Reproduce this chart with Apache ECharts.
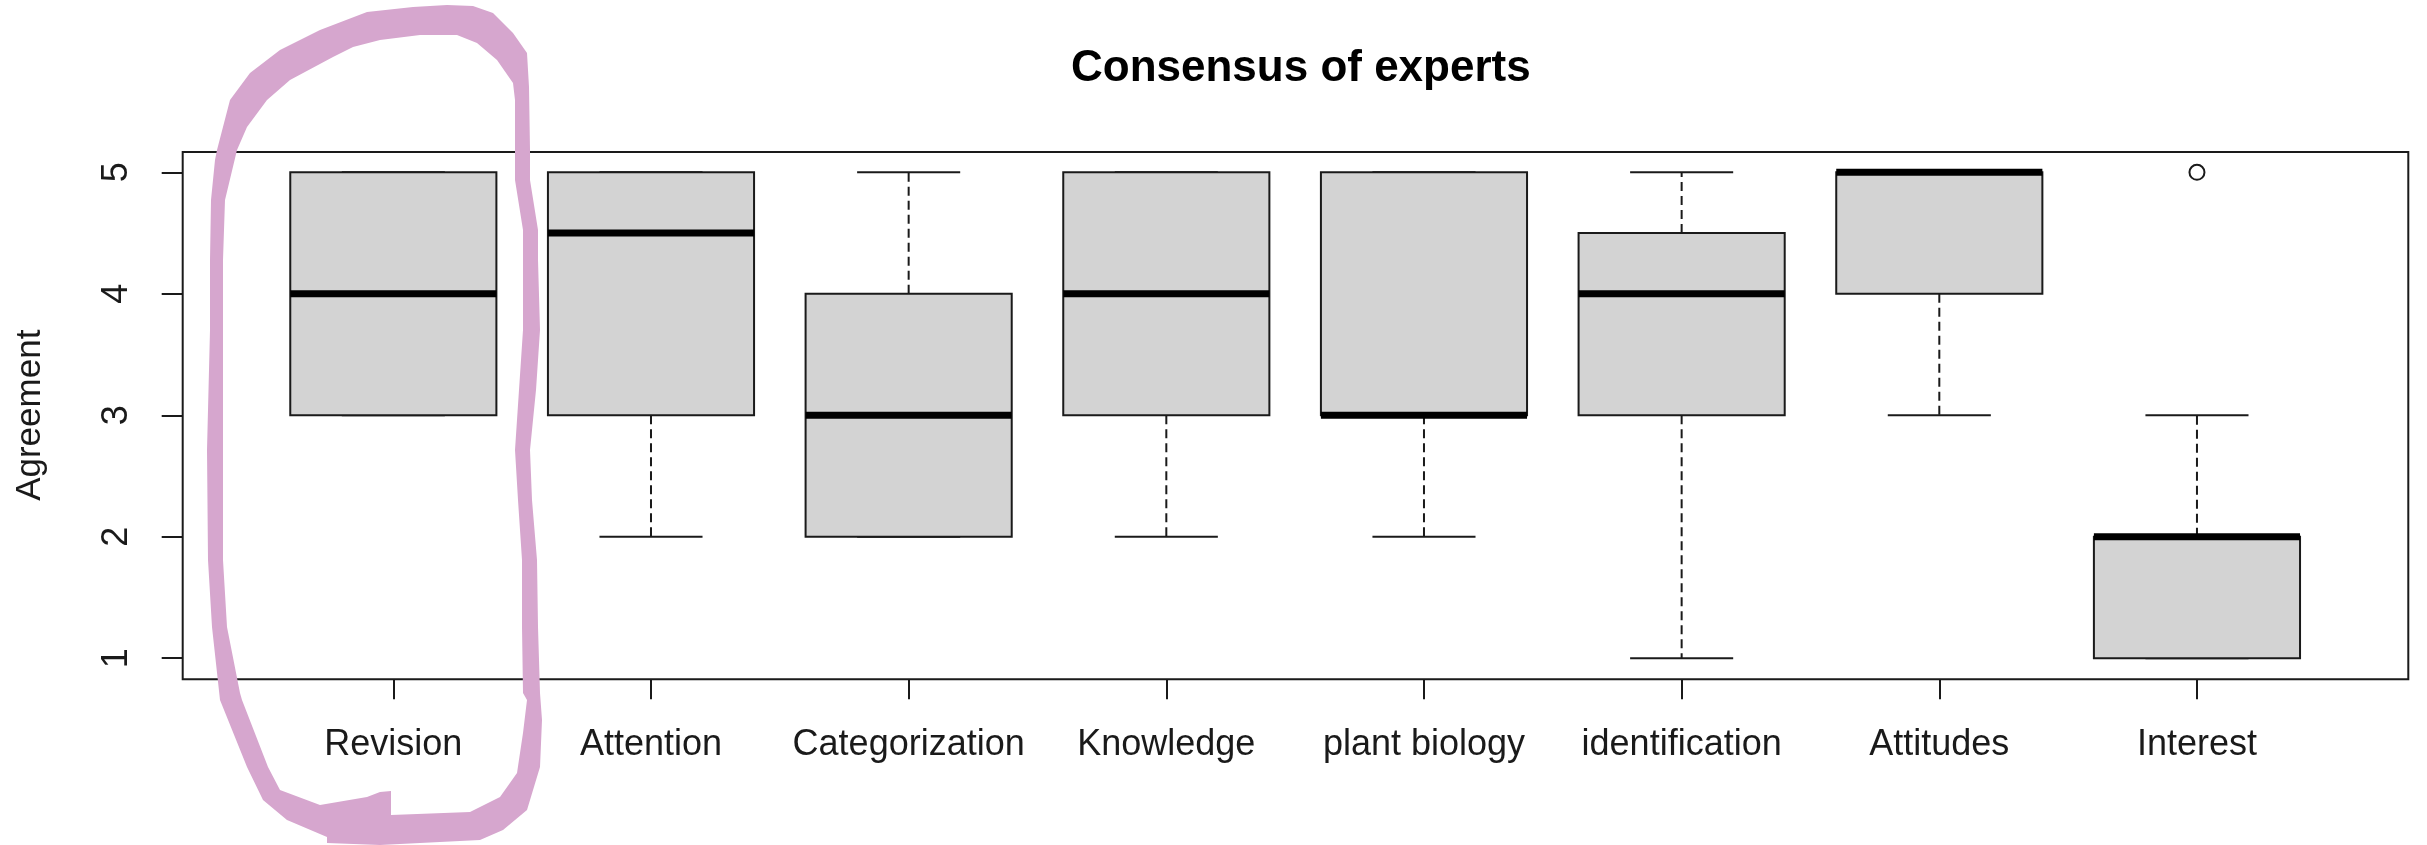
<!DOCTYPE html>
<html>
<head>
<meta charset="utf-8">
<script src="https://cdn.jsdelivr.net/npm/echarts@6/dist/echarts.min.js"></script>
<style>
html,body{margin:0;padding:0;background:#fff;}
#main{width:2427px;height:845px;}
</style>
</head>
<body>
<div id="main"></div>
<script>
// ---- data ----
const categories = ['Revision', 'Attention', 'Categorization', 'Knowledge', 'plant biology', 'identification', 'Attitudes', 'Interest'];
const whiskerLow  = [3, 2, 2, 2, 2, 1, 3, 1];
const quartile1   = [3, 3, 2, 3, 3, 3, 4, 1];
const medians     = [4, 4.5, 3, 4, 3, 4, 5, 2];
const quartile3   = [5, 5, 4, 5, 5, 4.5, 5, 2];
const whiskerHigh = [5, 5, 5, 5, 5, 5, 5, 3];
const outlierCategories = ['Interest'];
const outlierValues = [5];
const yTicks = [1, 2, 3, 4, 5];
const titleText = 'Consensus of experts';
const yTitle = 'Agreement';

const boxData = categories.map((c, i) => [i, whiskerLow[i], quartile1[i], medians[i], quartile3[i], whiskerHigh[i]]);
const outlierData = outlierCategories.map((c, k) => [categories.indexOf(c), outlierValues[k]]);

const INK = '#1a1a1a';
const FONT = 'Liberation Sans, Arial, sans-serif';
const PINK = '#D6A6CE';

// hand-drawn highlight loop (decoration)
const loopOuter = [[217,150],[230,100],[250,73],[280,50],[320,30],[367,12],[413,7],[447,5],[473,6],[493,13],[513,33],[527,53],[529,87],[530,150],[530,180],[538,230],[538,260],[540,330],[536,390],[530,450],[532,500],[537,560],[538,627],[540,693],[542,720],[540,767],[527,810],[503,830],[480,840],[380,845],[327,843],[327,837],[287,820],[263,800],[247,767],[220,700],[212,627],[208,560],[207,450],[210,330],[210,260],[211,200],[215,160]];
const loopInner = [[237,150],[225,200],[223,260],[223,330],[223,450],[223,560],[227,627],[240,693],[242,700],[268,767],[280,790],[320,805],[367,797],[380,792],[391,791],[391,815],[470,812],[500,797],[517,773],[523,733],[527,700],[523,693],[522,627],[522,560],[518,500],[515,450],[523,330],[523,260],[523,230],[515,180],[515,100],[513,83],[497,60],[477,43],[457,35],[420,35],[380,40],[353,47],[333,57],[290,80],[267,100],[247,127]];
const loopPoints = loopOuter.concat([loopOuter[0]], loopInner, [loopInner[0]]);

const chart = echarts.init(document.getElementById('main'), null, {renderer: 'canvas'});

function renderBox(params, api) {
  const i = api.value(0);
  const lo = api.value(1), q1 = api.value(2), md = api.value(3), q3 = api.value(4), hi = api.value(5);
  const band = api.size([1, 0])[0];
  const cx = api.coord([i, md])[0];
  const y = v => api.coord([i, v])[1];
  const bw = band * 0.8, cw = band * 0.4;
  const children = [];
  const dash = {stroke: INK, lineWidth: 2, lineDash: [9, 5]};
  const solid = {stroke: INK, lineWidth: 2};
  if (hi > q3) children.push({type: 'line', shape: {x1: cx, y1: y(q3), x2: cx, y2: y(hi)}, style: dash});
  if (lo < q1) children.push({type: 'line', shape: {x1: cx, y1: y(q1), x2: cx, y2: y(lo)}, style: dash});
  children.push({type: 'line', shape: {x1: cx - cw / 2, y1: y(hi), x2: cx + cw / 2, y2: y(hi)}, style: solid});
  children.push({type: 'line', shape: {x1: cx - cw / 2, y1: y(lo), x2: cx + cw / 2, y2: y(lo)}, style: solid});
  children.push({type: 'rect', shape: {x: cx - bw / 2, y: y(q3), width: bw, height: y(q1) - y(q3)},
    style: {fill: '#D3D3D3', stroke: INK, lineWidth: 2}});
  children.push({type: 'line', shape: {x1: cx - bw / 2, y1: y(md), x2: cx + bw / 2, y2: y(md)},
    style: {stroke: '#000', lineWidth: 7}});
  return {type: 'group', children};
}

const option = {
  backgroundColor: '#ffffff',
  animation: false,
  title: {
    text: titleText,
    left: 1066, top: 42,
    textStyle: {fontFamily: FONT, fontSize: 44, fontWeight: 'bold', color: '#000'}
  },
  grid: {left: 264.5, right: 101.2, top: 172.3, bottom: 186.8, containLabel: false},
  xAxis: {
    type: 'category',
    data: categories,
    boundaryGap: true,
    offset: 21.1,
    axisLine: {show: false},
    axisTick: {show: true, alignWithLabel: true, length: 20, lineStyle: {color: INK, width: 2}},
    axisLabel: {fontFamily: FONT, fontSize: 36, color: INK, margin: 48, interval: 0},
    splitLine: {show: false}
  },
  yAxis: {
    type: 'value',
    min: yTicks[0], max: yTicks[yTicks.length - 1], interval: 1,
    offset: 81.8,
    name: yTitle,
    nameLocation: 'middle',
    nameGap: 135,
    nameRotate: 90,
    nameTextStyle: {fontFamily: FONT, fontSize: 35, color: INK},
    axisLine: {show: false},
    axisTick: {show: true, length: 21, lineStyle: {color: INK, width: 2}},
    axisLabel: {fontFamily: FONT, fontSize: 36, color: INK, rotate: 90, margin: 48},
    splitLine: {show: false}
  },
  series: [
    {
      type: 'custom',
      renderItem: renderBox,
      data: boxData,
      encode: {x: 0, y: [1, 2, 3, 4, 5]},
      clip: false,
      z: 3
    },
    {
      type: 'scatter',
      data: outlierData,
      symbol: 'circle',
      symbolSize: 15,
      clip: false,
      itemStyle: {color: '#ffffff', borderColor: INK, borderWidth: 2, opacity: 1},
      z: 4
    }
  ],
  graphic: [
    // plot frame
    {type: 'rect', z: 10, silent: true,
      shape: {x: 182.7, y: 152, width: 2225.6, height: 527.3},
      style: {fill: null, stroke: INK, lineWidth: 2}},
    // hand-drawn pink highlight around "Revision"
    {type: 'polygon', z: 20, silent: true,
      shape: {points: loopPoints},
      style: {fill: PINK, stroke: null}}
  ]
};

chart.setOption(option);
</script>
</body>
</html>
